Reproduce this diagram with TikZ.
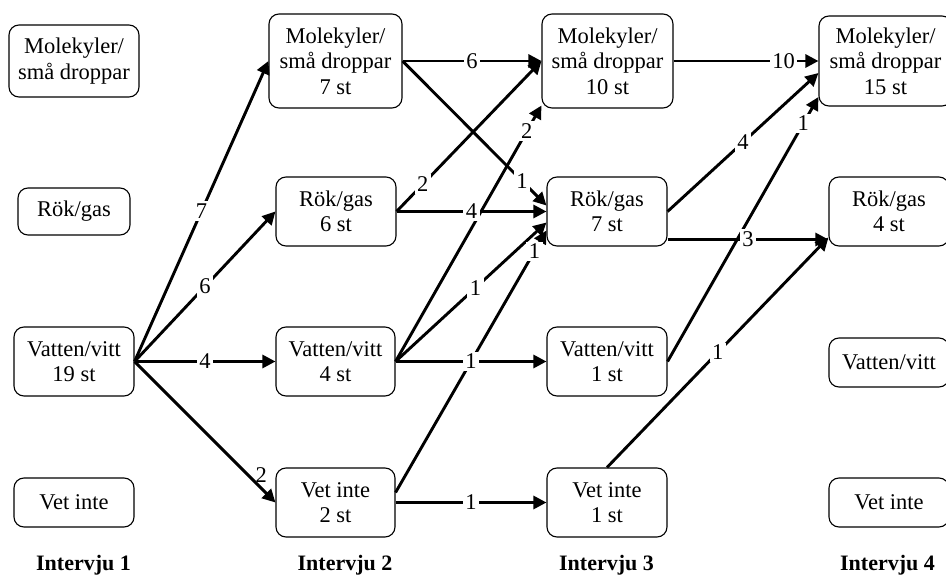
\documentclass[tikz,border=0pt]{standalone}
\usepackage{fontspec}
\setmainfont{Liberation Serif}
\usetikzlibrary{arrows.meta}
\begin{document}
\begin{tikzpicture}[x=1pt,y=-1pt,
  box/.style={draw, line width=1.1pt, rounded corners=10pt, align=center,
    inner sep=0pt, font=\fontsize{22.5}{25.5}\selectfont},
  flow/.style={line width=2.9pt, -{Triangle[length=13pt,width=13pt]}},
  lbl/.style={fill=white, inner sep=2.5pt, font=\fontsize{22.5}{25.5}\selectfont},
  head/.style={font=\fontsize{22}{25}\selectfont\bfseries, anchor=base}
]
\clip (0,0) rectangle (946,575);

% Interview 1
\node[box, minimum width=130pt, minimum height=72pt] (m1) at (74,61) {Molekyler/\\små droppar};
\node[box, minimum width=112pt, minimum height=47pt] (r1) at (74,211.5) {Rök/gas};
\node[box, minimum width=120pt, minimum height=69pt] (v1) at (74,361.5) {Vatten/vitt\\19 st};
\node[box, minimum width=120pt, minimum height=49pt] (n1) at (74,502.5) {Vet inte};

% Interview 2
\node[box, minimum width=133pt, minimum height=94pt] (m2) at (335.5,61) {Molekyler/\\små droppar\\7 st};
\node[box, minimum width=120pt, minimum height=69pt] (r2) at (336,211.5) {Rök/gas\\6 st};
\node[box, minimum width=119pt, minimum height=69pt] (v2) at (335.5,361.5) {Vatten/vitt\\4 st};
\node[box, minimum width=119pt, minimum height=69pt] (n2) at (335.5,502.5) {Vet inte\\2 st};

% Interview 3
\node[box, minimum width=131pt, minimum height=94pt] (m3) at (607.5,61) {Molekyler/\\små droppar\\10 st};
\node[box, minimum width=120pt, minimum height=69pt] (r3) at (607,211.5) {Rök/gas\\7 st};
\node[box, minimum width=120pt, minimum height=69pt] (v3) at (607,361.5) {Vatten/vitt\\1 st};
\node[box, minimum width=120pt, minimum height=69pt] (n3) at (607,502.5) {Vet inte\\1 st};

% Interview 4
\node[box, minimum width=133pt, minimum height=90pt] (m4) at (885.5,61) {Molekyler/\\små droppar\\15 st};
\node[box, minimum width=120pt, minimum height=69pt] (r4) at (889,211.5) {Rök/gas\\4 st};
\node[box, minimum width=120pt, minimum height=49pt] (v4) at (889,362.5) {Vatten/vitt};
\node[box, minimum width=120pt, minimum height=49pt] (n4) at (889,502.5) {Vet inte};

% Column headings
\node[head] (t1) at (83.5,570) {Intervju 1};
\node[head] (t2) at (345,570) {Intervju 2};
\node[head] (t3) at (606.5,570) {Intervju 3};
\node[head] (t4) at (887.5,570) {Intervju 4};

% Transitions 1 -> 2
\draw[flow] (v1.east) -- (m2.west);
\draw[flow] (v1.east) -- (r2.west);
\draw[flow] (v1.east) -- (v2.west);
\draw[flow] (v1.east) -- (n2.west);

% Transitions 2 -> 3
\draw[flow] (m2.east) -- (m3.west);
\draw[flow] (m2.east) -- ([yshift=6pt]r3.west);
\draw[flow] (r2.east) -- (m3.west);
\draw[flow] (r2.east) -- (r3.west);
\draw[flow] (v2.east) -- ([yshift=3pt]m3.south west);
\draw[flow] (v2.east) -- ([yshift=-11pt]r3.west);
\draw[flow] (v2.east) -- (v3.west);
\draw[flow] ([yshift=10pt]n2.east) -- ([yshift=-19pt]r3.west);
\draw[flow] (n2.east) -- (n3.west);

% Transitions 3 -> 4
\draw[flow] (m3.east) -- (m4.west);
\draw[flow] (r3.east) -- ([yshift=-12pt]m4.west);
\draw[flow] (v3.east) -- ([yshift=-36pt]m4.west);
\draw[flow] ([yshift=-28pt]r3.east) -- ([yshift=-28pt]r4.west);
\draw[flow] (n3.north) -- ([yshift=-26pt]r4.west);

% Counts on the transitions (drawn last so they sit above every line)
\path (v1.east) -- (m2.west) node[lbl, pos=.5] (l1) {7};
\path (v1.east) -- (r2.west) node[lbl, pos=.5] (l2) {6};
\path (v1.east) -- (v2.west) node[lbl, pos=.5] (l3) {4};
\path (v1.east) -- (n2.west) node[pos=.9, above=6pt, inner sep=0pt, font=\fontsize{22.5}{25.5}\selectfont] (l4) {2};

\path (m2.east) -- (m3.west) node[lbl, pos=.5] (l5) {6};
\path (m2.east) -- ([yshift=6pt]r3.west) node[lbl, pos=.83] (l6) {1};
\path (r2.east) -- (m3.west) node[lbl, pos=.18] (l7) {2};
\path (r2.east) -- (r3.west) node[lbl, pos=.5] (l8) {4};
\path (v2.east) -- ([yshift=3pt]m3.south west) node[lbl, pos=.9] (l9) {2};
\path (v2.east) -- ([yshift=-11pt]r3.west) node[lbl, pos=.53] (l10) {1};
\path (v2.east) -- (v3.west) node[lbl, pos=.5] (l11) {1};
\path ([yshift=10pt]n2.east) -- ([yshift=-19pt]r3.west) node[lbl, pos=.92] (l12) {1};
\path (n2.east) -- (n3.west) node[lbl, pos=.5] (l13) {1};

\path (m3.east) -- (m4.west) node[lbl, pos=.76] (l14) {10};
\path (r3.east) -- ([yshift=-12pt]m4.west) node[lbl, pos=.5] (l15) {4};
\path (v3.east) -- ([yshift=-36pt]m4.west) node[lbl, pos=.9] (l16) {1};
\path ([yshift=-28pt]r3.east) -- ([yshift=-28pt]r4.west) node[lbl, pos=.5] (l17) {3};
\path (n3.north) -- ([yshift=-26pt]r4.west) node[lbl, pos=.5] (l18) {1};
\end{tikzpicture}
\end{document}
